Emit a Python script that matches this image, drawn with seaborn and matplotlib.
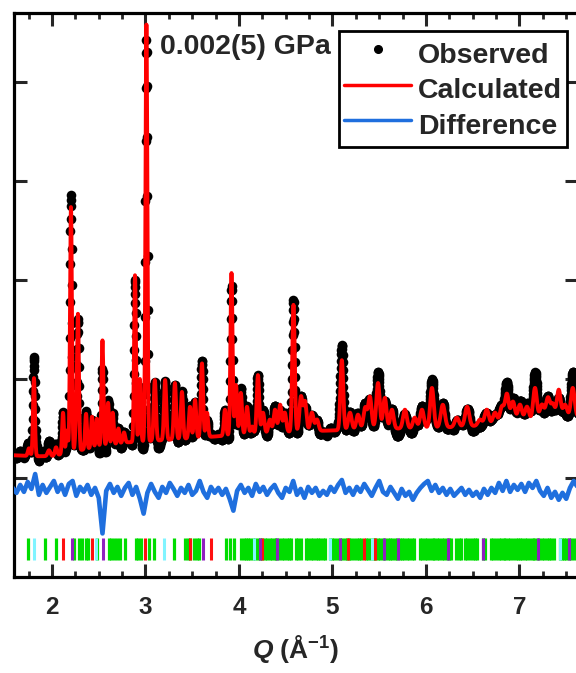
import numpy as np
import pandas as pd
import matplotlib
matplotlib.use("Agg")
import matplotlib.pyplot as plt
from matplotlib.lines import Line2D
from matplotlib.ticker import MultipleLocator
import seaborn as sns

# ---------------- data ----------------
# background levels (minima of the calculated curve)
bg_q = [1.58, 1.80, 2.00, 2.20, 2.50, 2.80, 3.00, 3.30, 3.60, 3.90, 4.20, 4.60,
        5.00, 5.40, 5.80, 6.20, 6.60, 7.00, 7.40, 7.64]
bg_level = [0.23, 0.22, 0.22, 0.26, 0.32, 0.36, 0.37, 0.39, 0.41, 0.43, 0.45, 0.47,
            0.48, 0.50, 0.50, 0.51, 0.53, 0.56, 0.60, 0.62]

# Bragg peaks: position, calculated top, observed top, width
peak_q = [1.754, 1.807, 1.968, 2.043, 2.118, 2.160, 2.203, 2.257, 2.278, 2.364,
          2.428, 2.481, 2.540, 2.600, 2.650, 2.710, 2.770, 2.888, 2.940, 3.010,
          3.100, 3.210, 3.315, 3.390, 3.476, 3.530, 3.604, 3.658, 3.850, 3.920,
          3.968, 4.020, 4.086, 4.140, 4.203, 4.257, 4.330, 4.385, 4.440, 4.490,
          4.583, 4.663, 4.706, 4.780, 4.834, 5.100, 5.187, 5.273, 5.350, 5.400,
          5.487, 5.560, 5.636, 5.775, 5.880, 5.957, 6.064, 6.180, 6.330, 6.440,
          6.578, 6.650, 6.738, 6.813, 6.866, 6.930, 7.005, 7.080, 7.166, 7.240,
          7.305, 7.358, 7.420, 7.487, 7.570]
peak_top_calc = [0.30, 1.01, 0.28, 0.31, 0.66, 0.48, 2.74, 0.52, 1.63, 0.65,
                 0.62, 0.60, 1.39, 0.76, 0.66, 0.50, 0.46, 2.05, 1.00, 4.58,
                 0.99, 0.99, 0.96, 0.87, 0.72, 0.79, 1.16, 0.66, 0.69, 2.07,
                 0.94, 0.86, 0.72, 0.52, 1.04, 0.66, 0.59, 0.69, 0.74, 0.66,
                 1.75, 0.82, 0.77, 0.66, 0.59, 1.19, 0.66, 0.64, 0.71, 0.82,
                 0.96, 0.81, 0.69, 0.69, 0.61, 0.69, 0.91, 0.74, 0.61, 0.72,
                 0.59, 0.69, 0.66, 0.72, 0.84, 0.77, 0.74, 0.72, 0.91, 0.74,
                 0.81, 0.74, 0.89, 0.74, 0.91]
peak_top_obs = [0.30, 1.14, 0.36, 0.31, 0.66, 0.48, 2.78, 0.52, 1.60, 0.65,
                0.62, 0.60, 1.18, 0.76, 0.66, 0.50, 0.46, 2.00, 1.00, 4.50,
                0.99, 0.99, 0.96, 0.87, 0.72, 0.79, 1.16, 0.66, 0.69, 2.02,
                0.94, 0.86, 0.72, 0.52, 1.03, 0.66, 0.59, 0.69, 0.74, 0.66,
                1.72, 0.82, 0.77, 0.66, 0.59, 1.26, 0.66, 0.64, 0.71, 0.82,
                1.00, 0.81, 0.69, 0.69, 0.61, 0.69, 1.00, 0.74, 0.61, 0.72,
                0.59, 0.69, 0.66, 0.72, 0.88, 0.77, 0.74, 0.72, 1.00, 0.74,
                0.81, 0.74, 0.89, 0.74, 1.00]
peak_width = [0.012, 0.010, 0.015, 0.012, 0.010, 0.010, 0.010, 0.010, 0.010, 0.010,
              0.010, 0.010, 0.010, 0.010, 0.010, 0.010, 0.012, 0.010, 0.010, 0.010,
              0.012, 0.012, 0.012, 0.012, 0.012, 0.012, 0.012, 0.012, 0.012, 0.011,
              0.012, 0.012, 0.013, 0.013, 0.013, 0.014, 0.015, 0.015, 0.015, 0.015,
              0.013, 0.016, 0.016, 0.017, 0.017, 0.015, 0.018, 0.018, 0.018, 0.018,
              0.018, 0.018, 0.018, 0.020, 0.020, 0.020, 0.019, 0.022, 0.022, 0.022,
              0.022, 0.022, 0.022, 0.022, 0.020, 0.022, 0.022, 0.022, 0.020, 0.022,
              0.022, 0.020, 0.020, 0.022, 0.020]

# difference curve (obs - calc, shown offset), sampled every 0.04 from Q = 1.58
diff_start, diff_step = 1.58, 0.04
diff_vals = [-0.10, -0.15, -0.07, -0.14, -0.04, -0.11, 0.04, -0.17, -0.07, -0.15,
             -0.09, -0.03, -0.14, -0.07, -0.17, -0.06, -0.03, -0.18, -0.09, -0.14,
             -0.07, -0.17, -0.10, -0.20, -0.56, -0.13, -0.06, -0.15, -0.09, -0.18,
             -0.10, -0.05, -0.17, -0.09, -0.21, -0.36, -0.15, -0.06, -0.14, -0.20,
             -0.09, -0.15, -0.05, -0.11, -0.18, -0.10, -0.15, -0.07, -0.17, -0.13,
             -0.03, -0.14, -0.20, -0.09, -0.15, -0.10, -0.17, -0.11, -0.21, -0.33,
             -0.13, -0.07, -0.15, -0.10, -0.18, -0.06, -0.14, -0.09, -0.17, -0.11,
             -0.07, -0.15, -0.20, -0.10, -0.14, -0.03, -0.17, -0.11, -0.20, -0.09,
             -0.15, -0.10, -0.18, -0.13, -0.17, -0.09, -0.14, -0.07, -0.02, -0.15,
             -0.10, -0.17, -0.09, -0.14, -0.06, -0.12, -0.18, -0.10, -0.03, -0.14,
             -0.17, -0.09, -0.15, -0.21, -0.11, -0.18, -0.14, -0.22, -0.15, -0.10,
             -0.06, -0.03, -0.13, -0.07, -0.15, -0.10, -0.17, -0.11, -0.18, -0.14,
             -0.10, -0.17, -0.12, -0.18, -0.14, -0.20, -0.11, -0.17, -0.10, -0.15,
             -0.05, -0.13, -0.03, -0.14, -0.07, -0.12, -0.06, -0.14, -0.05, -0.10,
             -0.03, -0.13, -0.18, -0.10, -0.20, -0.14, -0.22, -0.15, -0.21, -0.10,
             -0.03, -0.09]

# reflection tick positions (Q) per phase colour
ticks_green = [1.74, 1.93, 2.04, 2.235, 2.29, 2.32, 2.36, 2.39, 2.48, 2.61, 2.635,
               2.66, 2.70, 2.73, 2.78, 2.895, 2.92, 2.955, 3.04, 3.09, 3.30, 3.42,
               3.45, 3.48, 3.52, 3.55, 3.57, 3.86, 3.90, 3.95,
               4.02, 4.05, 4.07, 4.10, 4.12, 4.15, 4.17, 4.20, 4.23, 4.25, 4.28,
               4.30, 4.33, 4.35, 4.38, 4.40, 4.43, 4.46, 4.48, 4.51, 4.53, 4.56,
               4.61, 4.63, 4.66, 4.72, 4.74, 4.77, 4.79, 4.82, 4.85, 4.87, 4.90,
               4.92, 4.97, 5.00, 5.02, 5.05, 5.08, 5.10, 5.13, 5.15, 5.18, 5.20,
               5.23, 5.26, 5.28, 5.31, 5.36, 5.38, 5.41, 5.44, 5.46, 5.49, 5.51,
               5.54, 5.56, 5.59, 5.62, 5.64, 5.67, 5.69, 5.72, 5.74, 5.77, 5.80,
               5.82, 5.85, 5.87, 5.94, 5.96, 5.99, 6.01, 6.04, 6.07, 6.09, 6.12,
               6.14, 6.17, 6.19, 6.22, 6.25, 6.27, 6.32, 6.35, 6.37, 6.42, 6.44,
               6.47, 6.50, 6.52, 6.55, 6.61, 6.63, 6.70, 6.72, 6.75, 6.78, 6.80,
               6.83, 6.85, 6.88, 6.90, 6.93, 6.96, 6.98, 7.01, 7.03, 7.06, 7.08,
               7.11, 7.14, 7.16, 7.19, 7.21, 7.24, 7.26, 7.29, 7.32, 7.34, 7.37,
               7.43, 7.45, 7.48, 7.50, 7.53, 7.55, 7.58, 7.61]
ticks_cyan = [1.81, 2.47, 3.20, 4.16, 4.97, 5.42, 7.43]
ticks_red = [2.12, 2.43, 3.00, 3.48, 3.70, 4.25, 5.17, 5.34, 5.45]
ticks_purple = [2.21, 2.55, 3.61, 4.22, 4.41, 5.08, 5.55, 5.70, 6.24, 6.61, 7.20, 7.53]

x_ticks = [2, 3, 4, 5, 6, 7]
y_ticks = [0, 1, 2, 3, 4]
pressure_label = "0.002(5) GPa"
diff_offset = -0.12

# ---------------- build profile from the peak list ----------------
q = np.arange(1.58, 7.64, 0.0025)
bg = np.interp(q, bg_q, bg_level)
pq = np.array(peak_q)
pw = np.array(peak_width)
bg_at_peak = np.interp(pq, bg_q, bg_level)
amp_c = np.array(peak_top_calc) - bg_at_peak
amp_o = np.array(peak_top_obs) - bg_at_peak
shape = np.exp(-0.5 * ((q[:, None] - pq[None, :]) / pw[None, :]) ** 2)
calc = bg + shape @ amp_c
dq = diff_start + diff_step * np.arange(len(diff_vals))
# observed scatter around the fit follows the difference curve (capped)
resid = np.clip(np.interp(q, dq, diff_vals) - diff_offset, -0.08, 0.08)
obs = bg + shape @ amp_o + resid

df = pd.DataFrame({"Q": q, "obs": obs, "calc": calc})
dfd = pd.DataFrame({"Q": dq, "diff": diff_vals})

# ---------------- style ----------------
sns.set_theme(style="ticks")
plt.rcParams["font.family"] = ["Liberation Sans", "DejaVu Sans"]
plt.rcParams["font.weight"] = "bold"
plt.rcParams["mathtext.fontset"] = "custom"
plt.rcParams["mathtext.rm"] = "Liberation Sans:bold"
plt.rcParams["mathtext.it"] = "Liberation Sans:italic:bold"
plt.rcParams["mathtext.bf"] = "Liberation Sans:bold"

W, H = 576, 673
fig = plt.figure(figsize=(W / 100, H / 100), dpi=100)
ax = fig.add_axes([14 / W, 1 - 577 / H, (578 - 14) / W, (577 - 13) / H])

sns.scatterplot(data=df, x="Q", y="obs", ax=ax, color="black", s=48,
                linewidth=0, zorder=2, legend=False)
sns.lineplot(data=df, x="Q", y="calc", ax=ax, color="#ff0000", lw=2.8,
             estimator=None, sort=False, zorder=3, legend=False)
sns.lineplot(data=dfd, x="Q", y="diff", ax=ax, color="#1f6fde", lw=3.3,
             estimator=None, sort=False, zorder=3, legend=False)

ty0, ty1 = -0.83, -0.61
ax.vlines(ticks_green, ty0, ty1, colors="#00dd00", lw=2.3, zorder=2)
ax.vlines(ticks_cyan, ty0, ty1, colors="#80f4ff", lw=2.2, zorder=3)
ax.vlines(ticks_red, ty0, ty1, colors="#ff1010", lw=2.2, zorder=3)
ax.vlines(ticks_purple, ty0, ty1, colors="#9020c0", lw=2.2, zorder=3)

ax.set_xlim(1.5936, 7.626)
ax.set_ylim(-1.0, 4.697)
ax.set_xticks(x_ticks)
ax.set_yticks(y_ticks)
ax.xaxis.set_minor_locator(MultipleLocator(0.25))
ax.tick_params(axis="both", which="major", direction="in", length=9.5, width=2.2,
               top=True, right=True, labelsize=17.5, pad=14)
ax.tick_params(axis="x", which="minor", direction="in", length=4.5, width=2.0,
               top=True, bottom=True)
ax.tick_params(axis="y", which="both", labelleft=False)
for lab in ax.get_xticklabels():
    lab.set_fontweight("bold")
for sp in ax.spines.values():
    sp.set_linewidth(2.3)
    sp.set_color("black")

ax.set_ylabel("")
ax.set_xlabel(r"$\mathit{Q}$ (Å$^{\mathbf{-1}}$)", fontsize=19, fontweight="bold",
              labelpad=10)

fig.text(160 / W, 1 - 47 / H, pressure_label, fontsize=20.5, fontweight="bold",
         ha="left", va="center")

handles = [Line2D([], [], ls="none", marker="o", color="black", markersize=5.5),
           Line2D([], [], color="#ff0000", lw=2.5),
           Line2D([], [], color="#1f6fde", lw=2.5)]
leg = ax.legend(handles, ["Observed", "Calculated", "Difference"],
                loc="upper right", bbox_to_anchor=(567 / W, 1 - 31 / H),
                bbox_transform=fig.transFigure, borderaxespad=0, frameon=True,
                fancybox=False, edgecolor="black", framealpha=1,
                handlelength=2.35, handleheight=1.54, handletextpad=0.25,
                labelspacing=0.0, borderpad=0.17,
                prop={"size": 20.5, "weight": "bold"})
leg.get_frame().set_linewidth(2.0)

fig.savefig("out.png", dpi=100)
